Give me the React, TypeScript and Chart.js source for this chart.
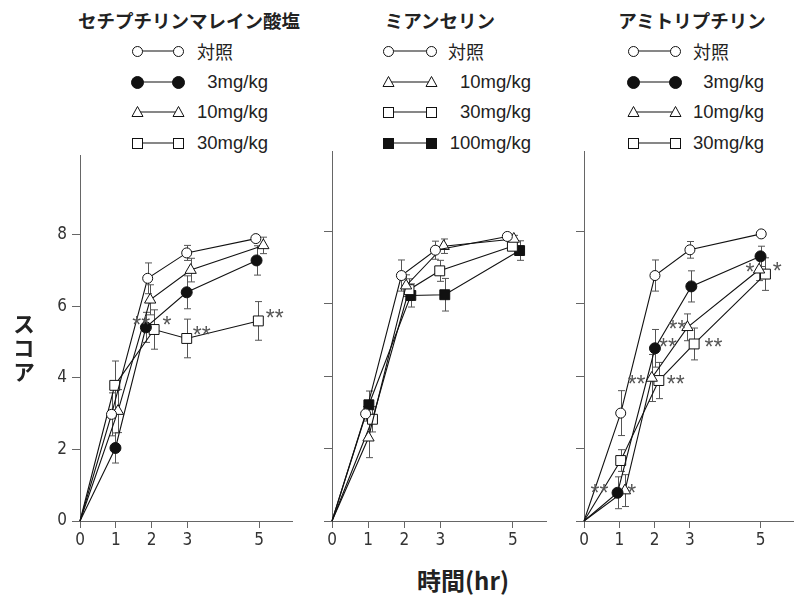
import React, { useEffect, useRef } from 'react';
import { Chart, registerables } from 'chart.js';
Chart.register(...registerables);

const xTicks = [0, 1, 2, 3, 5];
const yTicks = [0, 2, 4, 6, 8];

const titles = ['セチプチリンマレイン酸塩', 'ミアンセリン', 'アミトリプチリン'];
const yTitle = 'スコア';
const xTitle = '時間(hr)';

// Panel 1: セチプチリンマレイン酸塩
const p1Labels = ['対照', '3mg/kg', '10mg/kg', '30mg/kg'];
const p1Markers = ['oc', 'fc', 'ot', 'os'];
const p1CtrlX = [0, 0.88, 1.89, 2.98, 4.91];
const p1CtrlY = [0, 2.98, 6.78, 7.49, 7.89];
const p1CtrlE = [0, 0.6, 0.43, 0.21, 0.05];
const p1D3X = [0, 0.99, 1.84, 2.98, 4.93];
const p1D3Y = [0, 2.04, 5.41, 6.39, 7.28];
const p1D3E = [0, 0.42, 0.42, 0.46, 0.41];
const p1D10X = [0, 1.06, 1.96, 3.09, 5.12];
const p1D10Y = [0, 3.07, 6.18, 7.01, 7.7];
const p1D10E = [0, 0.6, 0.42, 0.33, 0.23];
const p1D30X = [0, 0.97, 2.07, 2.98, 4.98];
const p1D30Y = [0, 3.79, 5.35, 5.1, 5.59];
const p1D30E = [0, 0.68, 0.55, 0.54, 0.54];
const p1StarX = [1.71, 2.43, 3.4, 5.44];
const p1StarY = [5.61, 5.61, 5.33, 5.8];
const p1StarT = ['**', '*', '**', '**'];

// Panel 2: ミアンセリン
const p2Labels = ['対照', '10mg/kg', '30mg/kg', '100mg/kg'];
const p2Markers = ['oc', 'ot', 'os', 'fs'];
const p2CtrlX = [0, 0.93, 1.92, 2.86, 4.85];
const p2CtrlY = [0, 2.96, 6.78, 7.48, 7.86];
const p2CtrlE = [0, 0.2, 0.43, 0.25, 0.05];
const p2D10X = [0, 1.01, 2.05, 3.09, 5.03];
const p2D10Y = [0, 2.3, 6.5, 7.59, 7.79];
const p2D10E = [0, 0.55, 0.3, 0.2, 0.1];
const p2D30X = [0, 1.12, 2.13, 2.98, 4.99];
const p2D30Y = [0, 2.81, 6.39, 6.91, 7.59];
const p2D30E = [0, 0.35, 0.3, 0.29, 0.12];
const p2D100X = [0, 1.02, 2.18, 3.12, 5.19];
const p2D100Y = [0, 3.21, 6.23, 6.25, 7.47];
const p2D100E = [0, 0.38, 0.32, 0.45, 0.27];
const p2StarX: number[] = [];
const p2StarY: number[] = [];
const p2StarT: string[] = [];

// Panel 3: アミトリプチリン
const p3Labels = ['対照', '3mg/kg', '10mg/kg', '30mg/kg'];
const p3Markers = ['oc', 'fc', 'ot', 'os'];
const p3CtrlX = [0, 1.04, 2.01, 3.0, 5.02];
const p3CtrlY = [0, 2.98, 6.78, 7.49, 7.93];
const p3CtrlE = [0, 0.62, 0.43, 0.23, 0];
const p3D3X = [0, 0.95, 2.01, 3.04, 5.0];
const p3D3Y = [0, 0.78, 4.77, 6.48, 7.31];
const p3D3E = [0, 0.44, 0.52, 0.43, 0.28];
const p3D10X = [0, 1.16, 1.92, 2.93, 4.96];
const p3D10Y = [0, 0.84, 3.95, 5.35, 6.94];
const p3D10E = [0, 0.44, 0.65, 0.37, 0.3];
const p3D30X = [0, 1.04, 2.12, 3.12, 5.14];
const p3D30Y = [0, 1.67, 3.88, 4.89, 6.82];
const p3D30E = [0, 0.3, 0.5, 0.44, 0.45];
const p3StarX = [0.44, 1.35, 1.49, 2.38, 2.6, 2.65, 3.67, 4.7, 5.47];
const p3StarY = [0.91, 0.91, 3.9, 4.94, 3.9, 5.44, 4.92, 6.99, 7.02];
const p3StarT = ['**', '*', '**', '**', '**', '**', '**', '*', '*'];

const tickFont = "'DejaVu Sans Condensed', 'DejaVu Sans', sans-serif";
const latinFont = "'Liberation Sans', Arial, sans-serif";
const cjkFont = "'Noto Sans CJK JP', 'Noto Sans CJK SC', sans-serif";

type Series = { x: number[]; y: number[]; e: number[] };

const panels = [
  {
    labels: p1Labels, markers: p1Markers,
    series: [
      { x: p1CtrlX, y: p1CtrlY, e: p1CtrlE },
      { x: p1D3X, y: p1D3Y, e: p1D3E },
      { x: p1D10X, y: p1D10Y, e: p1D10E },
      { x: p1D30X, y: p1D30Y, e: p1D30E },
    ] as Series[],
    stars: { x: p1StarX, y: p1StarY, t: p1StarT },
  },
  {
    labels: p2Labels, markers: p2Markers,
    series: [
      { x: p2CtrlX, y: p2CtrlY, e: p2CtrlE },
      { x: p2D10X, y: p2D10Y, e: p2D10E },
      { x: p2D30X, y: p2D30Y, e: p2D30E },
      { x: p2D100X, y: p2D100Y, e: p2D100E },
    ] as Series[],
    stars: { x: p2StarX, y: p2StarY, t: p2StarT },
  },
  {
    labels: p3Labels, markers: p3Markers,
    series: [
      { x: p3CtrlX, y: p3CtrlY, e: p3CtrlE },
      { x: p3D3X, y: p3D3Y, e: p3D3E },
      { x: p3D10X, y: p3D10Y, e: p3D10E },
      { x: p3D30X, y: p3D30Y, e: p3D30E },
    ] as Series[],
    stars: { x: p3StarX, y: p3StarY, t: p3StarT },
  },
];

// layout (pixels)
const layouts = [
  { left: 0, width: 300, yAxisW: 80, padR: 6, titleX: 189, m1: 137, m2: 178, textL: 197, textR: 268 },
  { left: 300, width: 260, yAxisW: 32, padR: 14, titleX: 440, m1: 388, m2: 431, textL: 448, textR: 531 },
  { left: 560, width: 241, yAxisW: 24, padR: 3, titleX: 692, m1: 633, m2: 675, textL: 693, textR: 764 },
];
const canvasTop = 140;
const canvasH = 420;
const legendRows = [51, 81.5, 112, 142.5];

function markerProps(kind: string) {
  switch (kind) {
    case 'oc': return { style: 'circle', r: 5, fill: '#fff' };
    case 'fc': return { style: 'circle', r: 5.5, fill: '#111' };
    case 'ot': return { style: 'triangle', r: 6.5, fill: '#fff' };
    case 'os': return { style: 'rect', r: 7, fill: '#fff' };
    default: return { style: 'rect', r: 7, fill: '#111' };
  }
}

function Panel({ idx }: { idx: number }) {
  const ref = useRef<HTMLCanvasElement>(null);
  const p = panels[idx];
  const L = layouts[idx];
  useEffect(() => {
    if (!ref.current) return;
    const datasets = p.series.map((s, si) => {
      const m = markerProps(p.markers[si]);
      return {
        data: s.x.map((x, i) => ({ x, y: s.y[i] })),
        errs: s.e,
        showLine: true,
        borderColor: '#111',
        borderWidth: 1.1,
        pointStyle: m.style,
        pointRadius: s.x.map((_, i) => (i === 0 ? 0 : m.r)),
        pointBackgroundColor: m.fill,
        pointBorderColor: '#111',
        pointBorderWidth: 1,
        clip: false,
      };
    });
    const errPlugin = {
      id: 'errbars',
      beforeDatasetsDraw(chart: any) {
        const ctx = chart.ctx;
        const ys = chart.scales.y;
        ctx.save();
        ctx.strokeStyle = '#555';
        ctx.lineWidth = 1;
        chart.data.datasets.forEach((ds: any, di: number) => {
          const meta = chart.getDatasetMeta(di);
          ds.errs.forEach((e: number, i: number) => {
            if (!e) return;
            const pt = meta.data[i];
            const v = ds.data[i].y;
            const y1 = ys.getPixelForValue(v + e);
            const y2 = ys.getPixelForValue(v - e);
            const x = Math.round(pt.x) + 0.5;
            ctx.beginPath();
            ctx.moveTo(x, y1); ctx.lineTo(x, y2);
            ctx.moveTo(x - 3.5, y1); ctx.lineTo(x + 3.5, y1);
            ctx.moveTo(x - 3.5, y2); ctx.lineTo(x + 3.5, y2);
            ctx.stroke();
          });
        });
        ctx.restore();
      },
    };
    const starPlugin = {
      id: 'stars',
      afterDatasetsDraw(chart: any) {
        const ctx = chart.ctx;
        const xs = chart.scales.x;
        const ys = chart.scales.y;
        ctx.save();
        ctx.fillStyle = '#555';
        ctx.font = `23px ${latinFont}`;
        ctx.textAlign = 'center';
        ctx.textBaseline = 'alphabetic';
        p.stars.t.forEach((t, i) => {
          const px = xs.getPixelForValue(p.stars.x[i]);
          const py = ys.getPixelForValue(p.stars.y[i]);
          const m = ctx.measureText(t);
          const off = (m.actualBoundingBoxAscent - m.actualBoundingBoxDescent) / 2;
          ctx.fillText(t, px, py + off);
        });
        ctx.restore();
      },
    };
    const chart = new Chart(ref.current, {
      type: 'scatter',
      data: { datasets: datasets as any },
      options: {
        animation: false,
        responsive: false,
        devicePixelRatio: 1,
        layout: { padding: { top: 11, right: L.padR, left: 0, bottom: 0 } },
        plugins: { legend: { display: false }, tooltip: { enabled: false } },
        scales: {
          x: {
            type: 'linear', min: 0, max: 5.92,
            afterBuildTicks: (s: any) => { s.ticks = xTicks.map((v) => ({ value: v })); },
            afterFit: (s: any) => { s.height = 39; },
            grid: { drawOnChartArea: false, drawTicks: true, tickLength: 7, color: '#666', lineWidth: 1 },
            border: { display: true, color: '#666', width: 1 },
            ticks: { color: '#333', font: { family: tickFont, size: 17, style: 'condensed' }, padding: 2, maxRotation: 0, autoSkip: false },
          },
          y: {
            type: 'linear', min: 0, max: 10.22,
            afterBuildTicks: (s: any) => { s.ticks = yTicks.map((v) => ({ value: v })); },
            afterFit: (s: any) => { s.width = L.yAxisW; },
            grid: { drawOnChartArea: false, drawTicks: true, tickLength: 8, color: '#666', lineWidth: 1 },
            border: { display: true, color: '#666', width: 1 },
            ticks: { display: idx === 0, color: '#333', font: { family: tickFont, size: 17, style: 'condensed' }, padding: 5 },
          },
        },
      } as any,
      plugins: [errPlugin, starPlugin],
    });
    return () => chart.destroy();
  }, []);
  return (
    <canvas
      ref={ref}
      width={L.width}
      height={canvasH}
      style={{ position: 'absolute', left: L.left, top: canvasTop, width: L.width, height: canvasH }}
    />
  );
}

function LegendMarker({ kind, cx, cy }: { kind: string; cx: number; cy: number }) {
  const fill = kind === 'fc' || kind === 'fs' ? '#111' : '#fff';
  if (kind === 'oc') return <circle cx={cx} cy={cy} r={5} fill={fill} stroke="#111" strokeWidth={1} />;
  if (kind === 'fc') return <circle cx={cx} cy={cy} r={6} fill={fill} stroke="#111" strokeWidth={1} />;
  if (kind === 'ot')
    return <polygon points={`${cx},${cy - 6} ${cx + 5.5},${cy + 4} ${cx - 5.5},${cy + 4}`} fill={fill} stroke="#111" strokeWidth={1} />;
  return <rect x={cx - 5} y={cy - 5} width={10} height={10} fill={fill} stroke="#111" strokeWidth={1} />;
}

function Legend({ idx }: { idx: number }) {
  const p = panels[idx];
  const L = layouts[idx];
  return (
    <>
      {p.labels.map((lab, i) => {
        const cy = legendRows[i];
        const isCjk = i === 0;
        const w = L.m2 - L.m1 + 20;
        return (
          <React.Fragment key={i}>
            <svg
              width={w}
              height={20}
              style={{ position: 'absolute', left: L.m1 - 10, top: cy - 10 }}
            >
              <line x1={10} y1={10} x2={w - 10} y2={10} stroke="#111" strokeWidth={1.1} />
              <LegendMarker kind={p.markers[i]} cx={10.5} cy={10.5} />
              <LegendMarker kind={p.markers[i]} cx={w - 9.5} cy={10.5} />
            </svg>
            {isCjk ? (
              <div
                style={{
                  position: 'absolute', left: L.textL, top: cy - 14, height: 28, lineHeight: '28px',
                  fontFamily: cjkFont, fontSize: 18, color: '#222', whiteSpace: 'nowrap',
                }}
              >
                {lab}
              </div>
            ) : (
              <div
                style={{
                  position: 'absolute', right: 801 - L.textR, top: cy - 14, height: 28, lineHeight: '28px',
                  fontFamily: latinFont, fontSize: 18.5, color: '#222', whiteSpace: 'nowrap', textAlign: 'right',
                }}
              >
                {lab}
              </div>
            )}
          </React.Fragment>
        );
      })}
    </>
  );
}

export default function App() {
  return (
    <div style={{ position: 'absolute', left: 0, top: 0, width: 801, height: 600, background: '#fff', overflow: 'hidden' }}>
      {titles.map((t, i) => (
        <div
          key={i}
          style={{
            position: 'absolute', left: layouts[i].titleX - 150, width: 300, top: 6, height: 28, lineHeight: '28px',
            textAlign: 'center', fontFamily: cjkFont, fontWeight: 700, fontSize: 18.5, color: '#222', whiteSpace: 'nowrap',
          }}
        >
          {t}
        </div>
      ))}
      {[0, 1, 2].map((i) => <Legend key={'l' + i} idx={i} />)}
      {[0, 1, 2].map((i) => <Panel key={'p' + i} idx={i} />)}
      <div
        style={{
          position: 'absolute', left: 10, top: 313, width: 28, height: 80,
          writingMode: 'vertical-rl', fontFamily: cjkFont, fontWeight: 700, fontSize: 22,
          letterSpacing: 2, color: '#222', lineHeight: '28px',
        }}
      >
        {yTitle}
      </div>
      <div
        style={{
          position: 'absolute', left: 363, width: 200, top: 564, height: 32, lineHeight: '32px',
          textAlign: 'center', fontFamily: cjkFont, fontWeight: 700, fontSize: 24, color: '#222', whiteSpace: 'nowrap',
        }}
      >
        {xTitle}
      </div>
    </div>
  );
}
